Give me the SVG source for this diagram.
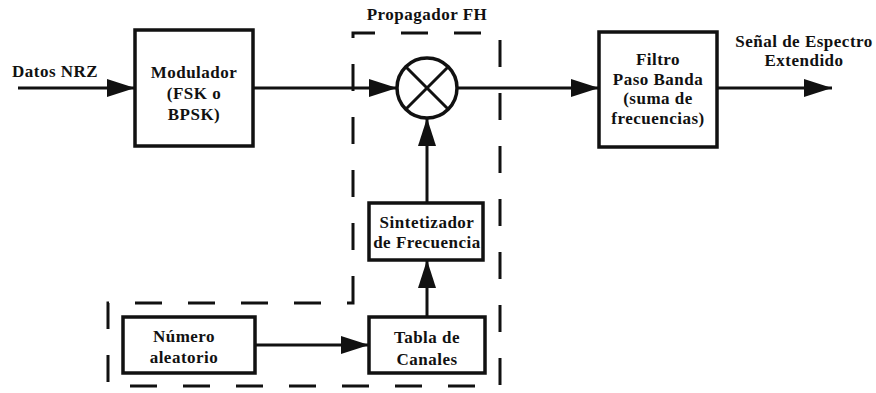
<svg xmlns="http://www.w3.org/2000/svg" width="876" height="393" viewBox="0 0 876 393">
<style>
text{font-family:"Liberation Serif","Times New Roman",serif;font-weight:bold;font-size:17px;letter-spacing:0.5px;fill:#111;}
.c{text-anchor:middle;}
.box{fill:#fff;stroke:#111;stroke-width:3.5;}
.ln{fill:none;stroke:#111;stroke-width:3;}
.dash{fill:none;stroke:#111;stroke-width:3;stroke-dasharray:27 26;}
</style>
<defs>
<marker id="ah" viewBox="0 0 28 18" refX="28" refY="9" markerWidth="28" markerHeight="18" markerUnits="userSpaceOnUse" orient="auto">
<path d="M0,0 L28,9 L0,18 Z" fill="#111"/>
</marker>
</defs>
<rect width="876" height="393" fill="#fff"/>
<g id="propagador">
<path class="dash" d="M353,303 L353,33 L500,33 L500,386 L108,386 L108,303 Z"/>
<text class="c" x="427" y="20">Propagador FH</text>
</g>
<g id="connectors">
<line class="ln" x1="18" y1="88" x2="135" y2="88" marker-end="url(#ah)"/>
<line class="ln" x1="253" y1="88" x2="397" y2="88" marker-end="url(#ah)"/>
<line class="ln" x1="457" y1="88" x2="599" y2="88" marker-end="url(#ah)"/>
<line class="ln" x1="717" y1="88" x2="832" y2="88" marker-end="url(#ah)"/>
<line class="ln" x1="427" y1="203" x2="427" y2="118" marker-end="url(#ah)"/>
<line class="ln" x1="427" y1="317" x2="427" y2="260" marker-end="url(#ah)"/>
<line class="ln" x1="255" y1="345" x2="369" y2="345" marker-end="url(#ah)"/>
</g>
<g id="datos">
<text x="12" y="77">Datos NRZ</text>
</g>
<g id="modulador">
<rect class="box" x="135" y="30" width="118" height="116"/>
<text class="c" x="194" y="78">Modulador</text>
<text class="c" x="194" y="99">(FSK o</text>
<text class="c" x="194" y="120">BPSK)</text>
</g>
<g id="multiplicador">
<circle cx="427" cy="88" r="30" fill="#fff" stroke="#111" stroke-width="3.5"/>
<line class="ln" x1="406" y1="67" x2="448" y2="109"/>
<line class="ln" x1="448" y1="67" x2="406" y2="109"/>
</g>
<g id="filtro">
<rect class="box" x="599" y="32" width="118" height="115"/>
<text class="c" x="658" y="65">Filtro</text>
<text class="c" x="658" y="85">Paso Banda</text>
<text class="c" x="658" y="104">(suma de</text>
<text class="c" x="658" y="124">frecuencias)</text>
</g>
<g id="salida">
<text class="c" x="804" y="47">Señal de Espectro</text>
<text class="c" x="804" y="66">Extendido</text>
</g>
<g id="sintetizador">
<rect class="box" x="369" y="203" width="114" height="57"/>
<text class="c" x="427" y="228">Sintetizador</text>
<text class="c" x="427" y="248">de Frecuencia</text>
</g>
<g id="tabla">
<rect class="box" x="369" y="317" width="116" height="56"/>
<text class="c" x="427" y="343">Tabla de</text>
<text class="c" x="427" y="365">Canales</text>
</g>
<g id="numero">
<rect class="box" x="123" y="317" width="132" height="56"/>
<text class="c" x="184" y="342">Número</text>
<text class="c" x="184" y="363">aleatorio</text>
</g>
</svg>
